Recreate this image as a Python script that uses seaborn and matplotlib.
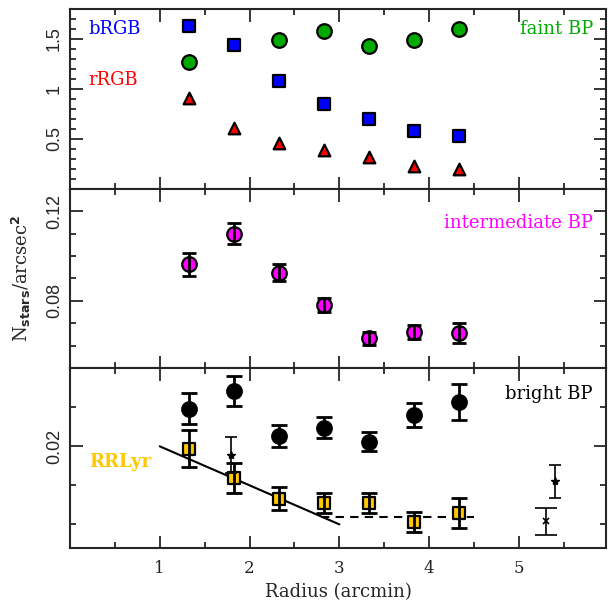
import numpy as np
import pandas as pd
import matplotlib as mpl
mpl.use("Agg")
import matplotlib.pyplot as plt
from matplotlib.ticker import MultipleLocator, FuncFormatter
import seaborn as sns

# radial bins (arcmin)
radius = [1.33, 1.83, 2.33, 2.83, 3.33, 3.83, 4.33]

# top panel: RGB and faint BP densities
brgb = [1.63, 1.44, 1.08, 0.85, 0.70, 0.58, 0.53]
rrgb = [0.91, 0.61, 0.46, 0.39, 0.32, 0.23, 0.20]
faint_radius = [1.33, 2.33, 2.83, 3.33, 3.83, 4.33]
faint_bp = [1.27, 1.49, 1.58, 1.43, 1.49, 1.60]

# middle panel: intermediate BP
inter_bp = [0.0963, 0.1100, 0.0926, 0.0781, 0.0633, 0.0662, 0.0658]
inter_err = [0.0052, 0.0048, 0.0037, 0.0030, 0.0030, 0.0030, 0.0045]

# bottom panel: bright BP and RR Lyrae
bright_bp = [0.0248, 0.0271, 0.0213, 0.0224, 0.0206, 0.0240, 0.0257]
bright_err = [0.0020, 0.0019, 0.0014, 0.0013, 0.0012, 0.0015, 0.0023]
rrlyr = [0.0197, 0.0159, 0.0133, 0.0127, 0.0127, 0.0103, 0.0115]
rrlyr_err = [0.0024, 0.0019, 0.0015, 0.0013, 0.0013, 0.0013, 0.0019]

# extra single points
star_radius = [1.79, 5.40]
star_val = [0.0189, 0.0155]
star_err = [0.0023, 0.0021]
cross_radius = [5.30]
cross_val = [0.0104]
cross_err = [0.0017]

# guide lines
trend_radius = [1.0, 3.0]
trend_val = [0.020, 0.010]
flat_radius = [2.8, 4.5]
flat_val = [0.011, 0.011]

sns.set_theme(style="ticks")
mpl.rcParams.update({
    "font.family": ["DejaVu Serif"],
    "axes.linewidth": 1.5,
    "xtick.direction": "in",
    "ytick.direction": "in",
    "xtick.top": True,
    "ytick.right": True,
    "xtick.major.size": 9,
    "ytick.major.size": 9,
    "xtick.minor.size": 4.5,
    "ytick.minor.size": 4.5,
    "xtick.major.width": 1.3,
    "ytick.major.width": 1.3,
    "xtick.minor.width": 1.3,
    "ytick.minor.width": 1.3,
})

fig, axes = plt.subplots(3, 1, figsize=(6.08, 6.08), dpi=100, sharex=True,
                         gridspec_kw={"hspace": 0})
fig.subplots_adjust(left=0.115, right=0.997, top=0.985, bottom=0.099)
ax1, ax2, ax3 = axes

edge = dict(edgecolor="black", linewidth=1.6, legend=False, zorder=3)

# top panel
sns.scatterplot(x=radius, y=brgb, marker="s", s=65, color="#0000FF", ax=ax1, **edge)
sns.scatterplot(x=faint_radius, y=faint_bp, marker="o", s=110, color="#00AA00", ax=ax1, **edge)
sns.scatterplot(x=radius, y=rrgb, marker="^", s=70, color="#FF0000", ax=ax1, **edge)
ax1.set_ylim(0.0, 1.8)
ax1.yaxis.set_major_locator(MultipleLocator(0.5))
ax1.yaxis.set_minor_locator(MultipleLocator(0.1))
ax1.text(0.035, 0.86, "bRGB", color="#0000FF", fontsize=13, transform=ax1.transAxes)
ax1.text(0.035, 0.58, "rRGB", color="#FF0000", fontsize=13, transform=ax1.transAxes)
ax1.text(0.975, 0.86, "faint BP", color="#00AA00", fontsize=13, ha="right",
         transform=ax1.transAxes)

# middle panel
sns.scatterplot(x=radius, y=inter_bp, marker="o", s=110, color="#FF00FF", ax=ax2, **edge)
ax2.errorbar(radius, inter_bp, yerr=inter_err, fmt="none", ecolor="black",
             elinewidth=2, capsize=5, capthick=2, zorder=4)
ax2.set_ylim(0.05, 0.13)
ax2.yaxis.set_major_locator(MultipleLocator(0.04))
ax2.yaxis.set_minor_locator(MultipleLocator(0.01))
ax2.text(0.975, 0.78, "intermediate BP", color="#FF00FF", fontsize=13, ha="right",
         transform=ax2.transAxes)

# bottom panel
sns.lineplot(x=trend_radius, y=trend_val, color="black", linewidth=1.5, ax=ax3)
sns.lineplot(x=flat_radius, y=flat_val, color="black", linewidth=1.5, ax=ax3,
             linestyle=(0, (4, 3)))
ax3.errorbar(radius, bright_bp, yerr=bright_err, fmt="none", ecolor="black",
             elinewidth=2, capsize=6, capthick=2, zorder=2)
sns.scatterplot(x=radius, y=bright_bp, marker="o", s=110, color="black", ax=ax3, **edge)
sns.scatterplot(x=radius, y=rrlyr, marker="s", s=70, color="#FFC800", ax=ax3, **edge)
ax3.errorbar(radius, rrlyr, yerr=rrlyr_err, fmt="none", ecolor="black",
             elinewidth=2, capsize=6, capthick=2, zorder=4)
ax3.errorbar(star_radius, star_val, yerr=star_err, fmt="*", color="black", ms=6,
             elinewidth=1.2, capsize=4, capthick=1.2, zorder=3)
ax3.errorbar(cross_radius, cross_val, yerr=cross_err, fmt="x", color="black", ms=4,
             mew=1.2, elinewidth=1.2, capsize=8, capthick=1.2, zorder=3)
ax3.set_ylim(0.007, 0.030)
ax3.yaxis.set_major_locator(MultipleLocator(0.02))
ax3.yaxis.set_minor_locator(MultipleLocator(0.005))
ax3.text(0.975, 0.83, "bright BP", color="black", fontsize=13, ha="right",
         transform=ax3.transAxes)
ax3.text(0.035, 0.45, "RRLyr", color="#FFC800", fontsize=13, fontweight="bold",
         transform=ax3.transAxes)

ax3.set_xlim(0.0, 5.97)
ax3.xaxis.set_major_locator(MultipleLocator(1))
ax3.xaxis.set_minor_locator(MultipleLocator(0.5))
ax3.xaxis.set_major_formatter(FuncFormatter(lambda v, p: "%g" % v if 0 < v < 5.9 else ""))
ax3.set_xlabel("Radius (arcmin)", fontsize=13)

fmt = FuncFormatter(lambda v, p: "%g" % round(v, 4) if abs(v) > 1e-9 else "")
for ax in axes:
    ax.yaxis.set_major_formatter(fmt)
    ax.tick_params(axis="y", which="major", labelsize=13, pad=5)
    ax.tick_params(axis="x", which="major", labelsize=12, pad=9)
    for lab in ax.get_yticklabels():
        lab.set_rotation(90)
        lab.set_va("center")
        lab.set_family("Liberation Sans")
    ax.set_ylabel("")

fig.text(0.035, 0.543, r"N$_{\mathbf{stars}}$/arcsec$^{\mathbf{2}}$", rotation=90,
         ha="center", va="center", fontsize=13)

plt.savefig("out.png", dpi=100)
